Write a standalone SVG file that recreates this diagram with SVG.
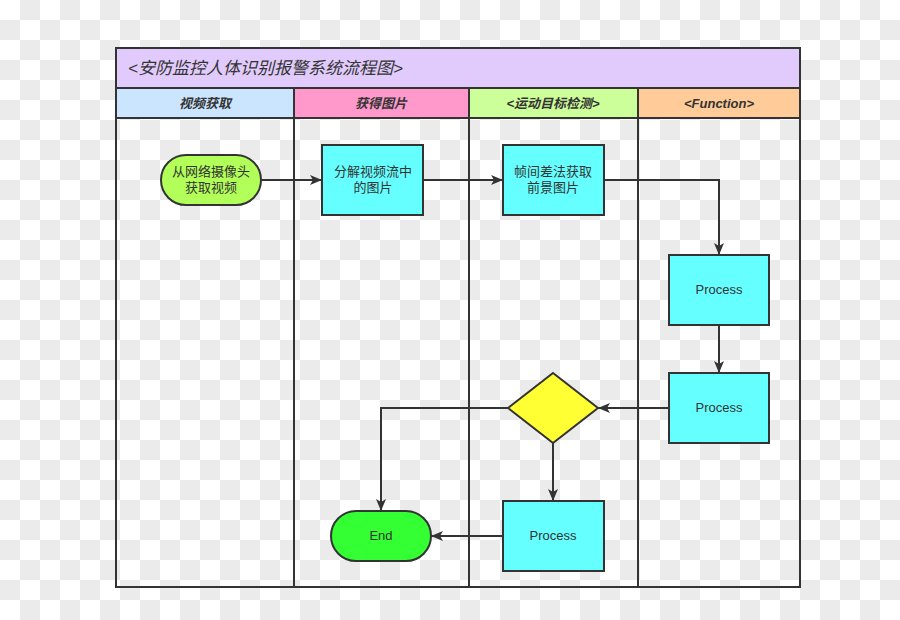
<svg xmlns="http://www.w3.org/2000/svg" width="900" height="620" viewBox="0 0 900 620">
<defs>
<pattern id="chk" width="40" height="40" patternUnits="userSpaceOnUse">
<rect width="40" height="40" fill="#ffffff"/>
<rect x="20" y="0" width="20" height="20" fill="#ebebeb"/>
<rect x="0" y="20" width="20" height="20" fill="#ebebeb"/>
</pattern>
<marker id="arr" markerWidth="12" markerHeight="10" refX="12" refY="5" orient="auto" markerUnits="userSpaceOnUse">
<path d="M0,0 L12,5 L0,10 L3,5 Z" fill="#333"/>
</marker>
<style>
.ln{stroke:#333;stroke-width:2;fill:none}
.nd{stroke:#333;stroke-width:2}
.tx{font-family:"Liberation Sans","Noto Sans CJK SC",sans-serif;font-size:13px;fill:#333;text-anchor:middle}
.hd{font-family:"Liberation Sans","Noto Sans CJK SC",sans-serif;font-size:13px;font-weight:bold;font-style:italic;fill:#333;text-anchor:middle}
.conn{stroke:#333;stroke-width:2;fill:none;marker-end:url(#arr)}
</style>
</defs>
<rect width="900" height="620" fill="url(#chk)"/>
<g id="pool">
<rect x="116" y="48" width="684" height="40" fill="#e1cbfc"/>
<text x="128" y="74" font-family="'Liberation Sans','Noto Sans CJK SC',sans-serif" font-size="17" font-style="italic" fill="#333">&lt;安防监控人体识别报警系统流程图&gt;</text>
<rect x="116" y="88" width="178" height="30" fill="#cce5ff"/>
<rect x="294" y="88" width="175" height="30" fill="#ff99cc"/>
<rect x="469" y="88" width="169" height="30" fill="#ccff99"/>
<rect x="638" y="88" width="162" height="30" fill="#ffcc99"/>
<rect x="116" y="48" width="684" height="539" class="ln"/>
<line x1="116" y1="88" x2="800" y2="88" class="ln"/>
<line x1="116" y1="118" x2="800" y2="118" class="ln"/>
<line x1="294" y1="88" x2="294" y2="587" class="ln"/>
<line x1="469" y1="88" x2="469" y2="587" class="ln"/>
<line x1="638" y1="88" x2="638" y2="587" class="ln"/>
<text x="205" y="108" class="hd">视频获取</text>
<text x="381" y="108" class="hd">获得图片</text>
<text x="553" y="108" class="hd">&lt;运动目标检测&gt;</text>
<text x="719" y="108" class="hd">&lt;Function&gt;</text>
</g>
<g id="connectors">
<line x1="261" y1="180" x2="322" y2="180" class="conn"/>
<line x1="423" y1="180" x2="503" y2="180" class="conn"/>
<polyline points="604,180 719,180 719,255" class="conn"/>
<line x1="719" y1="325" x2="719" y2="373" class="conn"/>
<line x1="669" y1="408" x2="598" y2="408" class="conn"/>
<polyline points="508,408 381,408 381,511" class="conn"/>
<line x1="553" y1="443" x2="553" y2="501" class="conn"/>
<line x1="503" y1="536" x2="431" y2="536" class="conn"/>
</g>
<g id="start">
<rect x="161" y="155" width="100" height="50" rx="25" fill="#b2ff59" class="nd"/>
<text x="211" y="176" class="tx">从网络摄像头</text>
<text x="211" y="192" class="tx">获取视频</text>
</g>
<g id="split">
<rect x="322" y="145" width="101" height="70" fill="#66ffff" class="nd"/>
<text x="373" y="176" class="tx">分解视频流中</text>
<text x="373" y="192" class="tx">的图片</text>
</g>
<g id="diff">
<rect x="503" y="145" width="101" height="70" fill="#66ffff" class="nd"/>
<text x="553" y="176" class="tx">帧间差法获取</text>
<text x="553" y="192" class="tx">前景图片</text>
</g>
<g id="process1">
<rect x="669" y="255" width="100" height="70" fill="#66ffff" class="nd"/>
<text x="719" y="294" class="tx">Process</text>
</g>
<g id="process2">
<rect x="669" y="373" width="100" height="70" fill="#66ffff" class="nd"/>
<text x="719" y="412" class="tx">Process</text>
</g>
<g id="decision">
<polygon points="553,373 598,408 553,443 508,408" fill="#ffff33" class="nd"/>
</g>
<g id="process3">
<rect x="503" y="501" width="101" height="70" fill="#66ffff" class="nd"/>
<text x="553" y="540" class="tx">Process</text>
</g>
<g id="end">
<rect x="331" y="511" width="100" height="50" rx="25" fill="#33ff33" class="nd"/>
<text x="381" y="540" class="tx">End</text>
</g>
</svg>
